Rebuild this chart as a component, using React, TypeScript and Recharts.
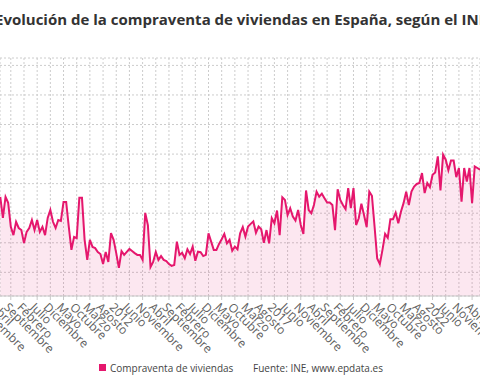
import React from "react";
import { AreaChart, Area, XAxis, YAxis, CartesianGrid } from "recharts";

// Compraventa de viviendas, miles de operaciones al mes
// 2008 empieza en mayo, 2023 acaba en julio
const sales2008 = [35.5, 28.4, 35.5, 33.5, 25.4, 22.6, 27.1, 25.0];
const sales2009 = [24.3, 19.9, 23.7, 25.0, 27.7, 24.3, 27.7, 23.7, 25.4, 22.6, 28.4, 31.1];
const sales2010 = [27.1, 25.0, 27.7, 27.4, 33.8, 33.8, 25.4, 17.6, 22.0, 21.6, 35.2, 35.2];
const sales2011 = [21.0, 14.2, 21.0, 18.6, 18.2, 16.9, 16.2, 12.8, 16.9, 13.5, 23.3, 21.0];
const sales2012 = [16.5, 11.5, 17.2, 15.9, 16.9, 17.9, 17.2, 16.5, 15.9, 15.9, 14.2, 30.1];
const sales2013 = [26.0, 11.8, 13.5, 16.9, 14.2, 15.5, 14.2, 13.8, 12.8, 12.2, 12.5, 20.4];
const sales2014 = [15.9, 16.6, 14.8, 17.8, 16.2, 18.7, 13.9, 17.0, 16.8, 15.5, 15.9, 23.2];
const sales2015 = [20.4, 17.6, 17.6, 19.6, 21.2, 23.0, 19.8, 21.0, 17.3, 18.7, 17.8, 23.2];
const sales2016 = [25.3, 22.1, 25.5, 26.4, 27.2, 23.4, 25.5, 24.6, 20.0, 24.3, 19.8, 28.3];
const sales2017 = [26.6, 30.9, 22.6, 35.4, 34.5, 29.4, 31.7, 28.9, 27.5, 31.1, 26.0, 23.0];
const sales2018 = [37.7, 31.1, 30.0, 32.8, 37.3, 35.6, 36.6, 35.1, 33.6, 33.6, 32.8, 24.3];
const sales2019 = [38.1, 34.5, 32.8, 31.4, 38.5, 31.7, 38.5, 26.0, 28.3, 33.2, 29.4, 25.3];
const sales2020 = [37.3, 35.9, 25.5, 14.7, 12.8, 17.6, 23.0, 21.7, 28.0, 28.0, 30.2, 26.6];
const sales2021 = [30.5, 33.4, 37.3, 32.8, 37.3, 39.0, 39.9, 40.2, 43.6, 36.8, 40.2, 38.8];
const sales2022 = [43.0, 43.8, 49.2, 37.7, 49.8, 48.1, 44.5, 47.8, 47.8, 42.2, 45.3, 33.9];
const sales2023 = [45.3, 40.7, 45.3, 33.4, 45.8, 45.3, 44.7];

// [año, primer mes (0 = enero), valores]
const yearlySales: [number, number, number[]][] = [
  [2008, 4, sales2008],
  [2009, 0, sales2009],
  [2010, 0, sales2010],
  [2011, 0, sales2011],
  [2012, 0, sales2012],
  [2013, 0, sales2013],
  [2014, 0, sales2014],
  [2015, 0, sales2015],
  [2016, 0, sales2016],
  [2017, 0, sales2017],
  [2018, 0, sales2018],
  [2019, 0, sales2019],
  [2020, 0, sales2020],
  [2021, 0, sales2021],
  [2022, 0, sales2022],
  [2023, 0, sales2023],
];

const monthNames = [
  "Enero", "Febrero", "Marzo", "Abril", "Mayo", "Junio",
  "Julio", "Agosto", "Septiembre", "Octubre", "Noviembre", "Diciembre",
];

const BASE_YEAR = 2007;

// meses desde enero 2007, una etiqueta cada cinco meses
const xTicks = [
  10, 15, 20, 25, 30, 35, 40, 45, 50, 55, 60, 65, 70, 75, 80, 85, 90, 95,
  100, 105, 110, 115, 120, 125, 130, 135, 140, 145, 150, 155, 160, 165,
  170, 175, 180, 185, 190, 195,
];
const yTicks = [10, 20, 30, 40, 50, 60, 70, 80];

const data = yearlySales.flatMap(([year, firstMonth, values]) =>
  values.map((v, i) => ({
    m: (year - BASE_YEAR) * 12 + firstMonth + i,
    value: v,
  }))
);

const monthLabel = (m: number) =>
  m % 12 === 0 ? String(BASE_YEAR + m / 12) : monthNames[m % 12];

const PINK = "#e5176d";
const FONT = "'Open Sans', sans-serif";

function MonthTick({ x, y, payload }: any) {
  const ax = x - 7.5;
  const ay = y + 6;
  return (
    <text
      x={ax}
      y={ay}
      transform={`rotate(45 ${ax} ${ay})`}
      fontSize={12}
      fill="#606060"
      fontFamily={FONT}
    >
      {monthLabel(payload.value)}
    </text>
  );
}

export default function App() {
  return (
    <div
      style={{
        position: "absolute",
        left: 0,
        top: 0,
        width: 480,
        height: 384,
        overflow: "hidden",
        background: "#fff",
        fontFamily: FONT,
      }}
    >
      <AreaChart
        width={480}
        height={384}
        data={data}
        margin={{ top: 58, right: 0, left: 0, bottom: 58 }}
      >
        <CartesianGrid stroke="#cccccc" strokeDasharray="2 2" />
        <XAxis
          dataKey="m"
          type="number"
          domain={[15.9, 198.0]}
          allowDataOverflow
          ticks={xTicks}
          interval={0}
          height={30}
          axisLine={{ stroke: "#c8c8c8" }}
          tickLine={{ stroke: "#c8c8c8" }}
          tickSize={4}
          tick={<MonthTick />}
        />
        <YAxis hide domain={[2, 82.5]} ticks={yTicks} allowDataOverflow />
        <Area
          type="linear"
          dataKey="value"
          stroke={PINK}
          strokeWidth={2}
          fill={PINK}
          fillOpacity={0.1}
          dot={false}
          activeDot={false}
          isAnimationActive={false}
        />
      </AreaChart>
      <svg
        width={480}
        height={384}
        style={{ position: "absolute", left: 0, top: 0, pointerEvents: "none" }}
      >
        <text
          x={-5}
          y={25}
          fontSize={15}
          fontWeight={700}
          fill="#333"
          fontFamily={FONT}
        >
          Evolución de la compraventa de viviendas en España, según el INE
        </text>
        <rect x={99} y={364} width={7} height={7} fill={PINK} />
        <text x={110} y={372} fontSize={10} fill="#444" fontFamily={FONT}>
          Compraventa de viviendas
        </text>
        <text x={253} y={372} fontSize={10} fill="#444" fontFamily={FONT}>
          Fuente: INE, www.epdata.es
        </text>
      </svg>
    </div>
  );
}
